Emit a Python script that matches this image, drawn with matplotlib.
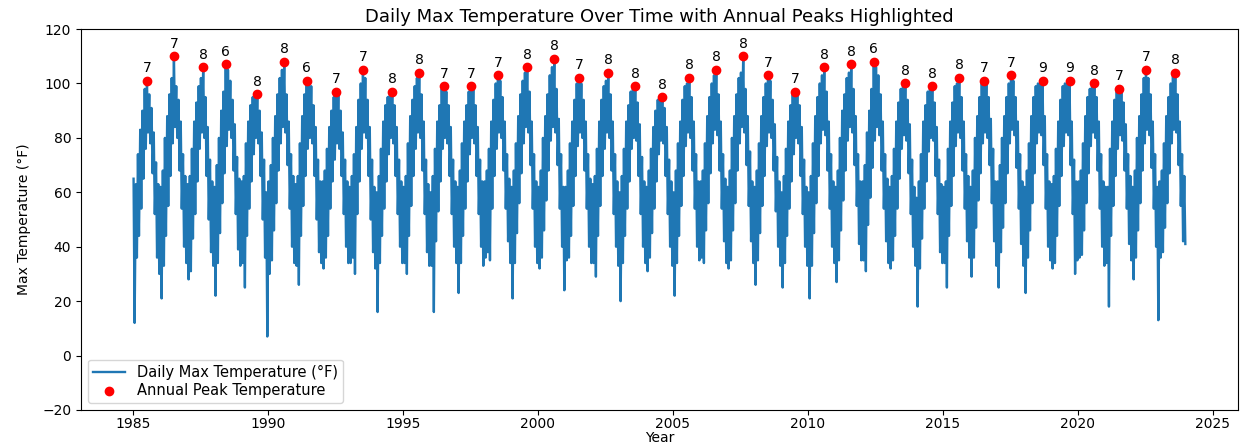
import matplotlib
matplotlib.use("Agg")
import matplotlib.pyplot as plt
import matplotlib.dates as mdates
import pandas as pd

plt.rcParams["font.family"] = ["DejaVu Sans"]

# ---- data (monthly upper / lower extremes of daily max temperature, °F) ----
years = list(range(1985, 2024))

monthly_high = [
    [65, 63, 74, 83, 90, 98, 101, 96, 91, 82, 71, 63],    # 1985
    [62, 68, 80, 88, 96, 102, 110, 99, 94, 86, 74, 66],   # 1986
    [63, 66, 76, 86, 93, 99, 102, 106, 95, 84, 72, 64],   # 1987
    [62, 70, 80, 90, 97, 107, 105, 101, 94, 85, 73, 65],  # 1988
    [64, 66, 78, 86, 92, 95, 95, 96, 90, 82, 72, 60],     # 1989
    [64, 70, 80, 88, 96, 102, 105, 108, 96, 86, 74, 66],  # 1990
    [63, 66, 78, 88, 96, 101, 100, 99, 92, 84, 72, 64],   # 1991
    [64, 68, 76, 84, 90, 95, 97, 96, 90, 82, 72, 64],     # 1992
    [62, 66, 74, 84, 94, 100, 105, 102, 94, 84, 72, 62],  # 1993
    [60, 66, 76, 86, 92, 95, 96, 97, 92, 84, 72, 64],     # 1994
    [62, 66, 78, 88, 94, 99, 102, 104, 96, 86, 72, 63],   # 1995
    [60, 66, 76, 86, 92, 98, 99, 97, 92, 84, 72, 64],     # 1996
    [62, 68, 78, 86, 92, 97, 99, 98, 92, 84, 72, 64],     # 1997
    [64, 68, 76, 86, 94, 100, 103, 101, 95, 86, 74, 65],  # 1998
    [62, 68, 78, 88, 96, 101, 104, 106, 97, 86, 74, 64],  # 1999
    [62, 68, 80, 88, 96, 103, 106, 109, 98, 87, 74, 62],  # 2000
    [62, 68, 78, 86, 94, 100, 102, 100, 94, 86, 74, 65],  # 2001
    [63, 66, 76, 86, 94, 99, 101, 104, 96, 86, 74, 64],   # 2002
    [60, 66, 76, 86, 92, 97, 98, 99, 93, 85, 73, 64],     # 2003
    [62, 68, 76, 84, 90, 94, 94, 95, 91, 84, 72, 64],     # 2004
    [60, 68, 78, 86, 94, 99, 100, 102, 95, 86, 74, 64],   # 2005
    [64, 68, 78, 88, 95, 100, 103, 105, 96, 86, 74, 65],  # 2006
    [62, 68, 80, 88, 96, 102, 104, 110, 98, 88, 75, 64],  # 2007
    [62, 68, 78, 88, 95, 100, 103, 101, 94, 85, 73, 64],  # 2008
    [60, 66, 76, 86, 92, 96, 97, 96, 92, 84, 72, 62],     # 2009
    [60, 66, 78, 88, 95, 100, 103, 106, 97, 86, 74, 64],  # 2010
    [62, 68, 80, 90, 96, 102, 104, 107, 98, 88, 74, 64],  # 2011
    [64, 70, 82, 90, 98, 108, 106, 103, 96, 86, 74, 65],  # 2012
    [62, 66, 76, 86, 93, 98, 99, 100, 94, 85, 72, 62],    # 2013
    [58, 64, 74, 86, 92, 97, 98, 99, 93, 84, 72, 63],     # 2014
    [62, 64, 76, 86, 93, 99, 100, 102, 95, 86, 74, 66],   # 2015
    [62, 68, 80, 88, 95, 100, 101, 100, 95, 87, 76, 64],  # 2016
    [64, 70, 80, 88, 95, 100, 103, 101, 95, 86, 74, 64],  # 2017
    [62, 68, 78, 88, 95, 99, 100, 100, 101, 88, 74, 64],  # 2018
    [63, 66, 76, 86, 94, 99, 100, 100, 101, 86, 72, 64],  # 2019
    [64, 68, 78, 88, 95, 98, 99, 100, 95, 86, 74, 64],    # 2020
    [62, 62, 76, 86, 94, 97, 98, 97, 93, 85, 74, 66],     # 2021
    [62, 68, 80, 88, 96, 102, 105, 102, 96, 86, 74, 62],  # 2022
    [64, 68, 78, 88, 95, 100, 103, 104, 96, 86, 74, 66],  # 2023
]

monthly_low = [
    [12, 36, 44, 54, 65, 76, 82, 78, 67, 52, 36, 30],     # 1985
    [21, 33, 44, 55, 66, 78, 84, 80, 68, 54, 40, 34],     # 1986
    [28, 31, 43, 52, 64, 76, 82, 80, 66, 50, 38, 33],     # 1987
    [22, 34, 45, 56, 67, 77, 83, 80, 68, 52, 39, 33],     # 1988
    [34, 25, 44, 54, 64, 74, 80, 78, 66, 50, 36, 7],      # 1989
    [30, 35, 46, 56, 68, 78, 84, 82, 70, 54, 40, 34],     # 1990
    [33, 26, 44, 55, 66, 76, 80, 78, 66, 50, 38, 34],     # 1991
    [32, 36, 44, 54, 64, 72, 78, 76, 66, 52, 40, 34],     # 1992
    [34, 36, 30, 52, 64, 76, 82, 80, 66, 50, 38, 32],     # 1993
    [16, 34, 44, 54, 64, 74, 80, 78, 66, 52, 40, 34],     # 1994
    [34, 30, 44, 55, 66, 76, 82, 80, 68, 52, 38, 33],     # 1995
    [33, 16, 42, 53, 64, 76, 80, 78, 66, 52, 40, 34],     # 1996
    [23, 34, 44, 54, 64, 74, 80, 78, 66, 52, 40, 33],     # 1997
    [36, 38, 35, 54, 66, 76, 82, 80, 68, 54, 42, 34],     # 1998
    [21, 34, 45, 56, 67, 78, 84, 82, 70, 54, 40, 34],     # 1999
    [32, 36, 46, 57, 68, 79, 84, 82, 70, 54, 40, 24],     # 2000
    [35, 36, 44, 55, 66, 77, 82, 80, 68, 54, 40, 34],     # 2001
    [34, 29, 44, 55, 66, 76, 82, 80, 68, 52, 40, 33],     # 2002
    [20, 34, 44, 54, 64, 76, 80, 79, 66, 52, 40, 34],     # 2003
    [31, 36, 45, 54, 64, 74, 79, 78, 66, 52, 40, 33],     # 2004
    [22, 34, 44, 55, 66, 77, 82, 80, 68, 54, 40, 35],     # 2005
    [36, 34, 46, 56, 67, 78, 83, 81, 68, 54, 42, 34],     # 2006
    [32, 35, 46, 56, 68, 78, 84, 82, 70, 55, 42, 34],     # 2007
    [26, 35, 45, 55, 66, 77, 82, 80, 68, 53, 40, 33],     # 2008
    [25, 34, 44, 54, 64, 74, 80, 78, 66, 52, 40, 33],     # 2009
    [21, 33, 45, 56, 66, 78, 83, 81, 68, 54, 40, 34],     # 2010
    [27, 35, 46, 57, 68, 79, 84, 82, 70, 55, 41, 35],     # 2011
    [35, 31, 48, 58, 69, 79, 84, 81, 68, 54, 42, 34],     # 2012
    [32, 35, 44, 54, 65, 76, 81, 79, 67, 52, 40, 33],     # 2013
    [18, 32, 43, 54, 64, 75, 80, 79, 66, 52, 38, 34],     # 2014
    [34, 25, 44, 55, 66, 77, 82, 80, 68, 54, 42, 36],     # 2015
    [29, 36, 47, 57, 67, 78, 82, 80, 70, 56, 42, 33],     # 2016
    [25, 38, 47, 56, 67, 78, 83, 81, 69, 54, 41, 33],     # 2017
    [23, 36, 46, 56, 67, 78, 82, 81, 70, 54, 40, 35],     # 2018
    [32, 34, 44, 55, 66, 77, 82, 81, 70, 52, 30, 35],     # 2019
    [36, 37, 46, 56, 67, 77, 82, 80, 68, 54, 40, 33],     # 2020
    [34, 18, 44, 55, 66, 76, 81, 79, 68, 54, 41, 35],     # 2021
    [28, 36, 46, 56, 68, 78, 83, 81, 69, 54, 40, 13],     # 2022
    [36, 38, 47, 56, 67, 78, 83, 82, 70, 55, 42, 41],     # 2023
]

title = "Daily Max Temperature Over Time with Annual Peaks Highlighted"
x_label = "Year"
y_label = "Max Temperature (°F)"
line_label = "Daily Max Temperature (°F)"
peak_label = "Annual Peak Temperature"

# ---- build the time series ----
dates, temps = [], []
for yr, hi, lo in zip(years, monthly_high, monthly_low):
    for m in range(12):
        dates.append(pd.Timestamp(yr, m + 1, 10))
        temps.append(hi[m])
        dates.append(pd.Timestamp(yr, m + 1, 24))
        temps.append(lo[m])
series = pd.Series(temps, index=pd.DatetimeIndex(dates))

peak_idx = series.groupby(series.index.year).idxmax()
peak_dates = pd.DatetimeIndex(peak_idx.values)
peak_vals = series.loc[peak_dates].values

# ---- plot ----
fig = plt.figure(figsize=(12.44, 4.45), dpi=100)
ax = fig.add_axes([0.0651, 0.0787, 0.930, 0.856])

ax.plot(series.index, series.values, color="#1f77b4", linewidth=1.7, label=line_label)
ax.scatter(peak_dates, peak_vals, color="red", s=36, zorder=3, label=peak_label)

for d, v in zip(peak_dates, peak_vals):
    ax.annotate(str(d.month), (d, v), xytext=(0, 4), textcoords="offset points",
                ha="center", va="bottom", fontsize=10)

ax.set_ylim(-20, 120)
ax.xaxis.set_major_locator(mdates.YearLocator(5))
ax.xaxis.set_major_formatter(mdates.DateFormatter("%Y"))
ax.tick_params(axis="x", pad=1.5, labelsize=10)
ax.tick_params(axis="y", labelsize=10)
ax.set_title(title, fontsize=13, pad=5)
ax.set_xlabel(x_label, fontsize=10, labelpad=0)
ax.set_ylabel(y_label, fontsize=10, labelpad=8)
ax.legend(loc="lower left", fontsize=10.5, labelspacing=0.2,
          borderpad=0.35, handlelength=2.2)

fig.savefig("out.png", dpi=100)
